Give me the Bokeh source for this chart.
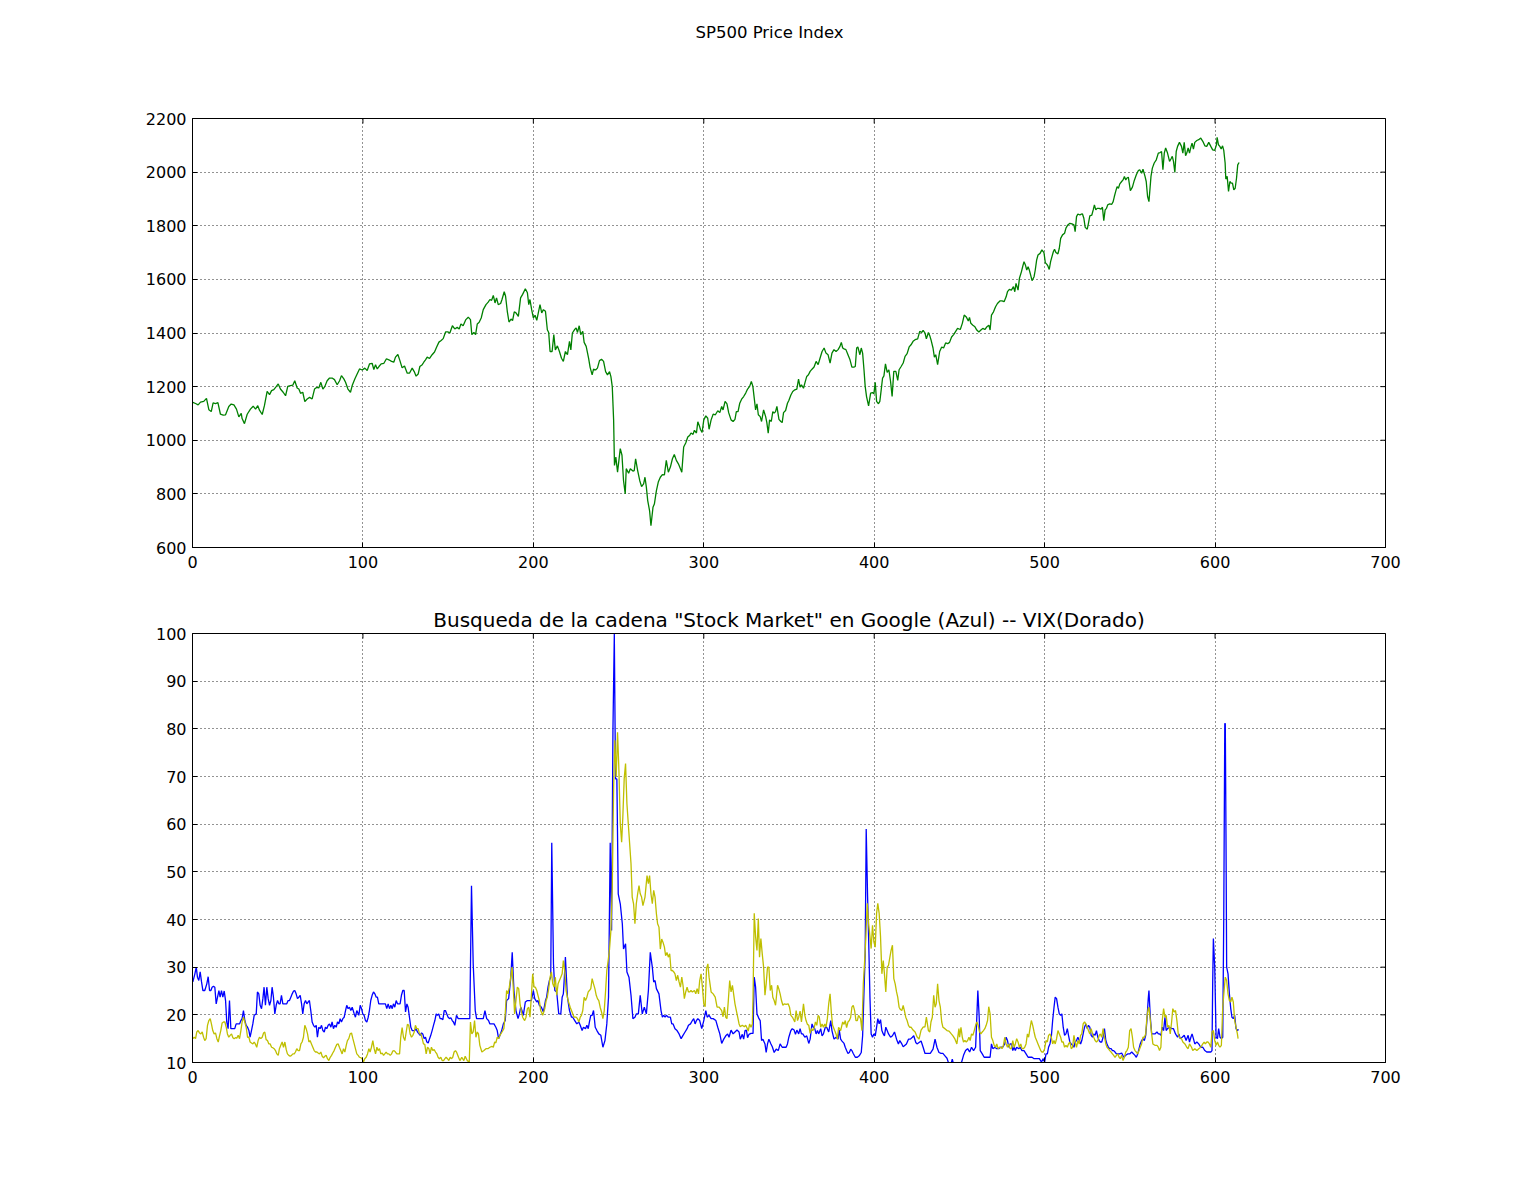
import math
from bokeh.plotting import figure
from bokeh.models import FixedTicker, Range1d, Title
from bokeh.layouts import column
from bokeh.embed import file_html
from bokeh.resources import INLINE

# ---------------- data (week index, value) ----------------
sp500_points = [
(0.2,1141),(1.8,1137),(3.3,1132),(4.7,1142),(6.6,1145),(8.2,1156),(9.6,1114),(11.0,1107),(12.1,1139),(13.5,1137),
(14.9,1140),(16.4,1097),(18.0,1094),(19.4,1095),(21.3,1126),(22.7,1135),(24.3,1132),(25.8,1116),(27.2,1087),(28.6,1100),
(29.1,1081),(30.5,1062),(32.1,1097),(34.0,1116),(35.6,1127),(37.0,1116),(38.3,1129),(39.3,1112),(40.9,1096),(42.2,1129),
(43.8,1182),(45.2,1170),(46.4,1185),(47.7,1189),(49.1,1200),(50.3,1210),(51.6,1191),(53.2,1179),(54.6,1166),(55.9,1201),
(57.5,1204),(58.9,1206),(60.0,1222),(61.4,1195),(62.4,1191),(63.4,1175),(64.7,1179),(65.9,1144),(67.3,1154),(68.7,1160),
(70.2,1154),(71.6,1191),(72.8,1197),(74.1,1195),(75.3,1216),(76.5,1191),(77.6,1200),(79.0,1222),(80.4,1232),(81.9,1232),
(83.3,1226),(84.9,1207),(86.3,1222),(87.4,1241),(88.8,1229),(89.8,1216),(91.2,1191),(92.7,1179),(93.7,1204),(95.3,1229),
(96.6,1247),(98.0,1266),(99.6,1262),(101.1,1269),(102.5,1260),(103.9,1285),(105.4,1287),(106.4,1264),(107.4,1282),(108.4,1266),
(109.4,1275),(110.7,1285),(112.3,1287),(113.8,1304),(115.2,1300),(116.8,1294),(118.1,1291),(119.1,1310),(120.5,1320),(121.7,1297),
(123.0,1270),(124.4,1277),(126.0,1250),(127.3,1250),(128.9,1269),(130.1,1256),(131.2,1239),(132.4,1247),(133.4,1275),(134.8,1282),
(135.7,1291),(136.7,1300),(137.7,1310),(139.1,1305),(140.6,1319),(142.0,1329),(143.2,1347),(144.6,1366),(145.9,1372),(147.1,1379),
(148.5,1404),(149.8,1404),(151.0,1400),(152.5,1427),(153.9,1415),(155.3,1421),(156.5,1415),(157.5,1434),(158.8,1427),(160.4,1450),
(161.8,1459),(163.1,1450),(163.9,1394),(165.1,1402),(166.1,1394),(167.1,1434),(168.2,1440),(169.4,1456),(170.6,1487),(172.2,1506),
(173.5,1515),(174.5,1525),(175.5,1522),(176.5,1540),(177.5,1512),(178.4,1531),(179.4,1506),(180.8,1510),(181.6,1525),(182.9,1554),
(183.7,1537),(184.7,1481),(185.7,1441),(186.9,1452),(187.8,1446),(188.8,1479),(189.8,1475),(191.2,1462),(192.5,1531),(193.7,1544),
(195.3,1565),(196.5,1550),(197.3,1506),(198.0,1525),(199.0,1487),(200.0,1456),(201.0,1466),(202.0,1447),(202.9,1475),(203.9,1506),
(204.9,1475),(205.9,1487),(207.1,1481),(208.2,1412),(209.0,1402),(209.8,1331),(211.0,1331),(212.0,1394),(212.9,1337),(214.1,1352),
(215.3,1331),(216.5,1306),(217.6,1294),(218.8,1331),(220.0,1319),(221.2,1369),(222.0,1337),(222.9,1400),(224.1,1412),(225.1,1419),
(225.9,1402),(226.9,1427),(227.8,1394),(229.0,1406),(229.8,1365),(231.0,1350),(232.4,1306),(233.3,1272),(234.5,1244),(235.3,1265),
(236.5,1262),(237.6,1269),(238.8,1297),(240.0,1302),(241.2,1294),(242.4,1256),(243.5,1244),(244.7,1256),(245.5,1237),(246.3,1200),
(247.1,1075),(247.6,906),(248.4,937),(249.4,881),(250.2,925),(251.0,969),(252.0,944),(252.9,850),(253.9,800),(254.5,894),
(255.9,877),(256.9,894),(258.4,885),(259.2,887),(260.0,931),(261.2,887),(262.4,850),(263.5,827),(264.7,837),(265.5,862),
(266.3,825),(267.1,775),(268.2,737),(269.0,681),(270.2,750),(271.0,762),(272.2,812),(273.3,844),(274.5,862),(275.7,872),
(276.9,871),(278.0,925),(279.2,881),(280.4,900),(281.6,931),(282.7,947),(283.9,925),(285.1,912),(286.3,894),(287.1,881),
(288.2,975),(289.4,990),(290.6,1012),(291.8,1019),(292.5,1027),(293.7,1022),(294.5,1037),(295.7,1027),(296.5,1069),(297.6,1050),
(298.1,1039),(299.0,1029),(300.0,1076),(301.2,1091),(302.3,1082),(303.1,1041),(304.3,1076),(305.5,1097),(306.8,1095),(308.2,1110),
(309.4,1103),(310.5,1126),(311.3,1113),(312.5,1145),(313.6,1136),(314.6,1103),(316.0,1076),(317.2,1070),(318.3,1078),(319.1,1107),
(320.1,1107),(321.1,1138),(322.2,1153),(323.4,1163),(324.6,1176),(325.7,1191),(326.9,1201),(327.9,1219),(328.8,1201),(329.6,1157),
(330.4,1113),(331.2,1136),(332.0,1095),(333.1,1088),(333.9,1070),(335.1,1113),(336.3,1088),(337.0,1066),(337.8,1026),(338.6,1076),
(339.6,1070),(340.5,1107),(341.3,1101),(342.1,1107),(342.9,1126),(344.1,1078),(345.2,1070),(346.0,1066),(346.8,1103),(348.0,1111),
(349.1,1138),(349.9,1148),(351.1,1169),(352.2,1182),(353.4,1188),(354.6,1191),(355.6,1228),(356.5,1198),(357.3,1207),(358.5,1194),
(359.3,1213),(360.4,1238),(361.4,1244),(362.4,1257),(363.5,1265),(364.7,1273),(365.9,1294),(367.1,1282),(368.2,1306),(369.4,1331),
(370.6,1344),(371.7,1325),(372.9,1319),(374.1,1288),(375.2,1325),(376.4,1338),(377.6,1331),(378.8,1338),(379.9,1350),(380.7,1365),
(381.5,1344),(382.3,1341),(383.4,1338),(384.6,1319),(385.8,1300),(386.9,1273),(388.1,1273),(388.9,1275),(389.7,1344),(390.4,1348),
(391.6,1319),(392.4,1344),(393.2,1325),(394.0,1263),(394.7,1201),(395.5,1163),(396.7,1128),(397.9,1176),(399.0,1178),(399.8,1173),
(400.6,1216),(401.4,1145),(402.5,1136),(403.3,1145),(404.1,1188),(404.9,1232),(405.7,1240),(406.6,1285),(407.6,1253),(408.6,1263),
(409.6,1219),(410.5,1163),(411.5,1257),(412.7,1257),(413.8,1223),(414.6,1263),(415.8,1275),(417.0,1288),(418.1,1313),(419.3,1323),
(420.5,1348),(421.6,1356),(422.8,1369),(424.0,1375),(425.5,1378),(426.7,1406),(427.9,1402),(428.7,1410),(429.8,1400),(430.6,1378),
(431.8,1402),(432.6,1390),(433.3,1375),(434.5,1344),(435.3,1310),(436.1,1319),(437.2,1282),(438.4,1331),(439.6,1348),(440.7,1344),
(441.9,1363),(443.1,1360),(444.2,1365),(445.4,1385),(446.6,1394),(447.8,1406),(448.9,1417),(450.5,1413),(451.7,1436),(452.8,1467),
(454.0,1460),(455.2,1445),(455.9,1458),(456.7,1436),(457.9,1429),(459.1,1423),(460.2,1411),(461.4,1404),(462.6,1411),(463.7,1417),
(464.9,1413),(466.1,1423),(467.3,1429),(468.0,1411),(468.8,1467),(470.0,1479),(471.2,1498),(472.3,1510),(473.9,1520),(475.0,1520),
(476.2,1517),(477.4,1535),(478.2,1554),(479.3,1563),(480.5,1560),(481.7,1573),(482.5,1554),(483.2,1585),(484.4,1560),(485.2,1604),
(486.4,1629),(487.1,1647),(487.9,1666),(488.7,1654),(489.5,1635),(490.3,1647),(491.0,1635),(491.8,1616),(492.6,1595),(493.8,1610),
(494.5,1635),(495.3,1672),(496.1,1691),(497.3,1697),(498.4,1710),(499.6,1700),(500.4,1662),(501.2,1657),(501.9,1650),(502.7,1637),
(503.5,1666),(504.3,1685),(505.1,1703),(505.8,1712),(506.6,1700),(507.8,1695),(508.6,1716),(509.4,1753),(510.5,1766),(511.7,1772),
(512.5,1791),(513.6,1803),(514.8,1809),(516.0,1807),(517.2,1803),(517.9,1778),(518.7,1834),(519.5,1844),(520.7,1840),(521.4,1843),
(522.2,1844),(523.0,1828),(523.8,1794),(525.0,1787),(525.7,1809),(526.5,1837),(527.7,1840),(528.5,1859),(529.2,1878),(530.0,1859),
(530.8,1865),(532.0,1865),(533.1,1862),(533.9,1869),(534.7,1819),(535.5,1859),(536.3,1865),(537.0,1878),(538.2,1882),(539.4,1880),
(540.2,1890),(540.9,1909),(541.7,1928),(542.5,1946),(543.3,1940),(544.1,1956),(545.2,1965),(546.0,1971),(546.8,1984),(547.6,1971),
(548.3,1978),(549.1,1981),(550.3,1931),(551.5,1944),(552.6,1969),(553.8,1990),(555.0,2006),(555.8,2009),(556.9,1996),(557.7,2011),
(558.9,1984),(559.6,1965),(560.4,1909),(561.2,1890),(562.4,1984),(563.2,2015),(564.3,2034),(565.5,2046),(566.7,2071),(567.8,2073),
(568.6,2077),(569.4,2009),(570.2,2071),(571.0,2090),(572.1,2071),(573.3,2040),(574.1,2049),(574.9,2059),(575.6,2040),(576.4,1999),
(577.2,2077),(578.0,2096),(579.1,2111),(580.3,2096),(581.1,2071),(581.9,2111),(582.7,2061),(583.4,2071),(584.2,2090),(585.0,2071),
(585.8,2093),(586.5,2108),(587.3,2086),(588.1,2111),(589.3,2118),(590.4,2121),(591.6,2127),(592.8,2115),(594.0,2098),(595.1,2096),
(596.3,2111),(597.5,2096),(598.6,2083),(599.8,2081),(600.8,2102),(601.2,2130),(602.0,2102),(602.8,2096),(603.6,2086),(604.4,2098),
(605.1,2081),(605.9,2034),(606.3,1974),(607.1,1984),(607.9,1928),(608.7,1965),(609.4,1959),(610.2,1959),(611.0,1934),(611.8,1940),
(612.6,1978),(613.3,2027),(614.1,2036),
]

google_points = [
(0.2,26.9),(1.4,28.6),(2.2,30.0),(2.9,27.9),(3.7,27.2),(4.5,29.0),(5.3,26.9),(6.1,25.1),(7.2,25.1),(8.4,26.5),
(9.2,28.0),(10.0,25.1),(10.8,25.1),(11.5,25.8),(12.3,26.0),(13.1,25.8),(13.9,22.3),(14.7,23.7),(15.5,25.1),(16.2,23.7),
(17.0,25.1),(17.8,23.7),(18.6,25.0),(19.4,23.0),(20.1,18.5),(20.9,17.1),(21.7,23.0),(22.5,17.1),(23.7,17.1),(24.8,17.1),
(25.6,18.1),(26.4,18.1),(27.6,18.1),(28.4,18.8),(29.1,19.2),(29.9,20.9),(30.7,18.8),(31.5,17.8),(32.3,17.4),(33.1,16.7),
(33.8,15.3),(34.6,16.7),(35.4,18.1),(36.2,19.9),(37.4,20.2),(38.1,24.8),(38.9,24.4),(39.7,22.0),(40.5,21.3),(41.3,23.4),
(42.0,25.8),(42.8,22.0),(43.6,25.8),(44.4,23.4),(45.2,22.0),(46.0,23.0),(46.7,25.8),(47.5,23.7),(48.3,20.2),(49.1,22.0),
(49.9,23.0),(50.7,22.3),(51.4,22.3),(52.2,24.1),(53.0,22.3),(53.8,22.3),(55.3,22.3),(56.1,23.0),(56.9,23.0),(57.7,23.7),
(58.5,24.4),(59.3,25.0),(60.0,25.1),(60.8,24.4),(61.6,23.4),(62.4,23.7),(63.2,24.1),(64.0,22.3),(64.7,20.2),(65.5,22.3),
(66.3,23.0),(67.1,22.3),(67.9,22.7),(68.6,23.0),(69.4,20.9),(70.2,18.5),(71.0,17.8),(71.8,17.4),(72.6,17.8),(73.3,15.3),
(74.1,17.4),(74.9,17.1),(75.7,17.8),(76.5,16.7),(77.3,16.4),(78.0,17.4),(78.8,17.1),(79.6,17.8),(80.4,18.1),(81.2,17.4),
(81.9,18.5),(82.7,17.1),(83.5,17.8),(84.3,17.4),(85.1,18.5),(85.9,18.1),(86.6,19.2),(87.4,18.5),(88.2,19.2),(89.0,19.5),
(89.8,20.9),(90.5,22.0),(91.3,21.3),(92.1,21.6),(92.9,20.9),(93.7,21.6),(94.9,20.2),(95.6,19.5),(96.4,20.9),(97.6,19.9),
(98.4,22.0),(99.2,21.3),(99.9,20.2),(100.7,19.9),(101.5,18.8),(102.3,18.5),(103.1,19.5),(103.8,20.9),(104.6,23.0),(105.4,24.1),
(106.2,24.8),(107.0,24.4),(107.8,23.7),(108.5,23.7),(109.3,22.3),(110.1,22.3),(110.9,22.3),(111.7,22.3),(112.5,22.3),(113.2,22.3),
(114.0,21.3),(114.8,22.3),(115.6,21.3),(116.4,22.0),(117.2,21.3),(117.9,22.3),(118.7,21.6),(119.5,23.0),(120.3,22.3),(121.1,22.3),
(121.8,22.3),(122.6,24.1),(123.4,25.1),(124.2,25.1),(125.0,20.6),(125.8,22.3),(126.5,21.6),(127.3,19.5),(128.1,17.4),(128.9,16.7),
(129.7,16.7),(130.4,16.7),(131.2,17.1),(132.0,16.4),(132.4,16.2),(133.6,15.7),(134.4,16.2),(135.1,16.0),(135.9,15.0),(136.7,15.3),
(137.5,14.3),(138.3,14.1),(139.1,15.0),(139.8,15.7),(140.6,16.7),(141.4,17.8),(142.2,18.8),(143.0,20.2),(143.7,19.9),(144.5,20.2),
(145.3,19.2),(146.1,19.2),(146.9,19.0),(147.7,20.9),(148.4,20.9),(149.2,20.2),(150.0,19.5),(150.8,19.2),(151.6,19.4),(152.4,18.8),
(153.1,18.5),(153.9,17.8),(154.9,19.9),(155.9,19.2),(156.9,19.2),(158.8,19.2),(160.8,19.2),(162.7,19.2),(163.7,47.1),(164.7,30.7),
(165.9,20.9),(166.7,19.2),(168.2,19.2),(169.6,19.2),(170.6,19.2),(171.6,20.9),(172.6,19.2),(173.7,18.8),(174.5,18.1),(175.7,18.1),
(176.9,18.1),(178.0,17.4),(178.8,16.7),(179.6,15.0),(180.4,15.7),(181.4,16.7),(182.4,18.1),(183.5,18.8),(184.3,23.0),(185.5,23.4),
(186.7,27.6),(187.6,33.1),(188.6,25.1),(189.8,20.9),(191.0,19.2),(191.8,20.2),(192.6,21.6),(193.3,20.9),(194.1,19.9),(195.3,22.7),
(196.5,23.0),(197.3,23.0),(198.0,23.0),(198.8,23.0),(200.0,25.1),(200.8,23.4),(202.0,22.7),(202.7,23.0),(203.5,22.0),(204.7,21.6),
(205.9,20.6),(207.1,23.0),(207.8,23.7),(208.6,25.8),(209.4,27.2),(210.2,27.9),(210.8,56.1),(211.8,30.7),(212.6,25.1),(213.7,24.8),
(214.9,20.2),(216.1,20.2),(216.9,23.7),(217.6,24.4),(218.2,27.9),(218.8,32.1),(220.0,23.7),(221.2,20.9),(222.4,19.5),(223.1,19.5),
(224.3,18.8),(225.5,18.1),(226.7,18.5),(227.5,17.8),(228.6,16.7),(229.4,17.4),(230.6,17.1),(231.4,17.8),(232.2,17.1),(232.9,18.5),
(233.7,19.9),(234.5,19.9),(235.3,20.9),(236.3,17.4),(237.3,16.7),(238.4,16.0),(239.6,15.7),(240.8,13.2),(242.0,14.6),(243.1,18.1),
(244.1,23.7),(245.1,56.1),(245.9,37.7),(246.7,79.7),(247.5,99.9),(248.2,69.5),(249.0,69.5),(249.8,45.4),(251.0,43.3),(252.2,39.1),
(252.9,33.8),(254.1,34.9),(254.9,29.0),(256.1,27.9),(257.3,24.1),(258.4,19.2),(259.6,19.5),(260.4,20.2),(261.6,20.2),(262.7,24.1),
(263.9,20.2),(265.1,21.6),(266.3,20.2),(267.5,25.1),(268.6,33.1),(269.8,30.0),(270.6,26.9),(271.4,27.2),(272.2,25.5),(273.7,24.4),
(274.9,20.9),(275.7,19.5),(276.5,19.9),(277.3,19.5),(278.0,19.9),(279.2,19.5),(280.4,19.5),(281.2,18.1),(282.0,18.1),(283.1,17.1),
(284.3,16.7),(285.5,16.0),(286.7,15.0),(287.8,15.7),(289.0,16.4),(290.2,17.1),(291.0,17.8),(292.2,18.1),(293.3,18.8),(294.1,19.2),
(294.9,18.1),(295.7,18.8),(296.5,19.2),(297.6,18.8),(298.8,17.1),(300.0,18.8),(301.2,20.9),(302.0,19.5),(303.1,19.9),(304.3,19.2),
(305.5,19.2),(307.1,18.8),(308.2,17.4),(309.4,16.0),(310.5,14.0),(311.7,14.9),(312.9,15.6),(314.0,16.0),(314.8,15.3),(316.0,16.8),
(317.2,16.0),(318.3,16.4),(319.5,16.8),(320.7,16.4),(321.4,14.9),(322.6,15.9),(323.4,14.9),(324.2,16.7),(325.0,16.8),(325.7,15.2),
(326.5,15.9),(327.7,16.1),(328.9,16.1),(329.6,27.9),(330.4,25.8),(331.2,20.2),(332.4,19.2),(333.1,18.8),(333.9,14.6),(334.7,14.9),
(335.9,13.9),(336.6,12.1),(337.4,13.9),(338.2,14.9),(339.4,13.9),(340.2,13.3),(341.3,12.1),(342.5,12.8),(343.7,12.5),(344.8,13.9),
(346.0,13.2),(347.2,13.2),(348.3,13.2),(349.1,13.9),(349.9,15.3),(351.1,16.7),(351.9,17.1),(353.0,16.8),(353.8,15.9),(354.6,16.8),
(355.7,16.0),(356.5,17.1),(357.3,16.0),(358.1,16.0),(359.3,15.3),(360.4,15.6),(361.6,14.0),(362.4,14.9),(363.5,18.1),(364.3,17.4),
(365.1,17.1),(365.9,16.0),(366.7,16.7),(367.4,16.0),(368.6,17.1),(369.4,15.6),(370.2,16.0),(371.3,17.4),(372.1,17.4),(373.3,16.4),
(374.5,18.8),(375.2,16.7),(376.4,14.9),(377.6,15.3),(378.8,14.9),(379.5,16.8),(380.3,14.9),(381.1,14.5),(382.3,14.0),(383.0,13.2),
(383.8,12.5),(384.6,11.9),(385.4,12.1),(386.2,12.8),(386.9,12.5),(387.7,11.9),(388.9,11.1),(390.1,11.1),(391.2,11.4),(392.4,12.1),
(393.2,15.6),(393.9,23.7),(394.7,32.8),(395.3,59.0),(396.1,45.0),(396.7,36.4),(397.5,23.7),(398.2,16.0),(399.0,15.3),(399.8,16.0),
(400.6,15.6),(401.4,17.4),(402.1,19.2),(402.9,18.1),(403.7,19.0),(404.5,16.7),(405.3,16.0),(406.0,15.6),(406.8,17.4),(407.6,16.7),
(408.4,16.0),(409.6,15.3),(410.7,15.6),(411.9,16.4),(413.1,14.9),(414.2,13.9),(415.0,14.6),(416.2,13.9),(417.0,13.3),(417.7,13.5),
(418.9,13.9),(420.1,14.9),(421.2,14.9),(422.4,15.3),(423.2,15.6),(424.4,14.2),(425.1,13.9),(426.3,14.2),(427.5,14.5),(428.7,13.2),
(429.8,11.9),(430.6,11.9),(431.8,11.9),(432.9,11.9),(434.5,12.8),(435.7,14.9),(436.8,13.2),(438.0,12.1),(439.2,11.9),(440.3,11.9),
(441.5,11.4),(442.7,10.9),(443.9,9.6),(445.0,9.6),(445.8,10.7),(446.6,9.6),(448.1,9.6),(449.7,9.6),(451.3,10.1),(452.4,11.5),
(453.6,12.5),(454.8,12.9),(456.0,12.2),(457.1,13.2),(458.3,12.5),(459.5,13.2),(460.2,19.5),(460.8,25.1),(461.6,19.5),(462.2,12.5),
(463.4,11.8),(464.5,11.1),(465.7,11.1),(466.9,11.1),(468.0,11.1),(468.8,13.9),(469.6,12.9),(470.8,13.2),(471.9,12.9),(473.1,12.9),
(474.3,13.2),(475.4,13.2),(476.6,13.9),(477.4,15.3),(478.2,14.6),(479.0,13.2),(479.7,13.9),(480.5,13.9),(481.3,12.5),(482.1,13.2),
(482.8,12.5),(483.6,13.2),(484.8,12.9),(485.6,13.2),(486.7,12.5),(487.9,12.5),(489.1,11.8),(490.3,11.1),(491.4,11.1),(492.6,11.1),
(493.8,10.8),(495.3,10.8),(496.9,10.8),(498.1,10.1),(499.2,10.8),(500.0,10.1),(500.8,11.8),(501.6,11.8),(502.3,13.2),(503.1,13.9),
(503.9,15.3),(504.7,18.8),(505.5,21.6),(506.2,23.7),(507.0,23.4),(507.8,21.6),(508.6,20.2),(509.4,19.9),(510.1,20.2),(510.9,17.4),
(511.7,15.7),(512.5,16.0),(513.3,17.1),(514.0,15.7),(514.8,14.3),(515.6,13.9),(516.4,13.6),(517.2,13.2),(517.9,14.3),(518.7,14.6),
(519.5,15.3),(520.3,14.6),(521.1,13.9),(521.8,14.6),(522.6,16.0),(523.4,17.4),(524.2,18.1),(525.0,17.1),(525.7,17.8),(526.5,17.4),
(527.3,15.7),(528.1,15.3),(528.8,16.0),(529.6,15.7),(530.4,16.7),(531.2,15.3),(532.0,14.6),(532.7,14.3),(533.5,14.3),(534.3,15.3),
(535.1,17.1),(535.9,14.6),(536.6,13.9),(537.4,13.2),(538.2,12.9),(539.0,12.9),(539.8,12.5),(540.5,12.5),(541.3,12.2),(542.1,11.8),
(542.9,11.8),(544.0,11.8),(545.2,12.0),(546.4,11.1),(547.6,11.5),(548.7,11.8),(549.9,11.8),(551.1,12.2),(552.2,11.8),(553.0,11.5),
(553.8,11.1),(554.6,11.8),(555.4,12.9),(556.1,13.9),(556.9,14.6),(557.7,15.0),(558.5,14.6),(559.3,15.7),(560.0,18.8),(560.8,23.4),
(561.2,25.1),(562.0,19.5),(562.8,16.0),(563.5,16.0),(564.7,16.0),(565.9,16.4),(566.7,16.0),(567.4,16.0),(568.2,15.7),(569.0,17.4),
(569.8,16.7),(570.6,19.5),(571.3,16.7),(572.1,17.1),(573.3,17.4),(574.5,17.1),(575.6,17.1),(576.8,16.0),(578.0,15.3),(578.8,16.0),
(579.5,15.0),(580.7,15.3),(581.9,15.7),(583.0,14.6),(584.2,15.7),(585.0,14.3),(585.8,15.3),(586.5,16.0),(587.3,15.0),(588.1,13.9),
(589.3,14.3),(590.4,13.9),(591.6,13.2),(592.8,13.2),(594.0,12.5),(595.1,12.2),(596.3,12.2),(597.5,12.2),(598.2,12.5),(598.6,26.5),
(599.0,36.0),(599.8,30.0),(600.6,15.3),(601.4,15.0),(602.1,17.1),(602.9,15.3),(603.7,15.0),(604.5,15.3),(605.1,40.5),(605.7,81.1),
(606.0,81.1),(606.4,58.0),(606.8,30.0),(607.6,28.6),(608.4,24.4),(609.2,21.3),(609.9,19.5),(610.7,19.2),(611.5,19.9),(612.3,17.1),
(613.1,16.7),(613.8,16.9),
]

vix_points = [
(0.2,15.0),(1.0,15.3),(1.8,15.0),(2.5,16.4),(3.3,16.7),(4.1,16.2),(4.9,16.0),(5.7,16.4),(6.5,15.3),(7.2,14.6),
(8.0,15.0),(8.8,17.8),(9.6,18.8),(10.4,19.2),(11.1,18.1),(11.9,16.7),(12.7,16.0),(13.5,16.2),(14.3,15.0),(15.1,14.3),
(15.8,15.5),(16.6,16.7),(17.4,18.3),(18.2,18.5),(19.0,18.5),(19.8,17.4),(20.5,16.0),(21.3,15.3),(22.1,15.7),(22.9,16.0),
(23.7,15.2),(24.4,15.0),(25.2,15.2),(26.0,15.1),(26.8,15.7),(27.6,15.0),(28.4,16.7),(29.1,18.5),(29.9,19.5),(30.7,18.5),
(31.5,17.4),(32.3,15.3),(33.1,15.3),(33.8,14.3),(34.6,14.1),(35.4,13.9),(36.2,14.3),(37.0,13.8),(37.7,13.2),(38.5,14.6),
(39.3,15.3),(40.1,15.0),(40.9,15.3),(41.7,16.2),(42.4,16.4),(43.2,14.8),(44.0,14.6),(44.8,13.9),(45.6,13.9),(46.4,13.2),
(47.1,13.1),(47.9,12.9),(48.7,12.5),(49.5,11.8),(50.3,11.5),(51.0,12.9),(51.8,13.6),(52.6,14.3),(53.4,13.2),(54.2,14.3),
(55.0,12.7),(55.7,11.8),(56.5,11.5),(57.3,11.3),(58.1,11.5),(58.9,11.8),(59.7,11.8),(60.4,12.2),(61.2,12.9),(62.0,12.5),
(62.8,12.5),(63.6,13.9),(64.3,14.3),(65.1,15.3),(65.9,17.8),(66.7,17.1),(67.5,16.0),(68.3,14.3),(69.0,14.6),(69.8,13.9),
(70.6,13.2),(71.4,12.5),(72.2,12.2),(73.0,12.2),(73.7,12.0),(74.5,11.8),(75.3,12.2),(76.1,11.3),(76.9,11.0),(77.6,11.3),
(78.4,11.5),(79.2,10.8),(80.0,10.4),(80.8,11.1),(81.6,11.5),(82.3,12.0),(83.1,12.5),(83.9,13.2),(84.7,13.8),(85.5,13.9),
(86.2,13.2),(87.0,12.5),(87.8,11.8),(88.6,12.9),(89.4,12.2),(90.2,13.6),(90.9,14.6),(91.7,15.0),(92.5,16.0),(93.3,16.2),
(94.1,15.0),(94.9,13.9),(95.6,12.9),(96.4,11.8),(97.2,11.5),(98.0,11.1),(98.8,11.0),(99.5,10.8),(100.3,10.1),(101.1,10.8),
(101.9,11.1),(102.7,11.8),(103.5,12.9),(104.2,12.2),(105.0,13.2),(105.8,14.6),(106.6,12.9),(107.4,11.8),(108.2,13.2),(108.9,12.5),
(109.7,12.9),(110.5,11.8),(111.3,12.0),(112.1,11.5),(112.8,11.8),(113.6,12.2),(114.4,11.8),(115.2,11.8),(116.0,11.5),(116.8,11.8),
(117.5,12.4),(118.3,12.5),(119.1,12.2),(119.9,11.8),(120.7,11.8),(121.5,11.8),(122.2,15.3),(123.0,17.3),(123.8,15.3),(124.6,14.6),
(125.4,16.4),(126.1,18.0),(126.9,17.8),(127.7,16.0),(128.5,15.3),(129.3,15.7),(130.1,16.4),(130.8,17.8),(131.6,17.1),(132.4,17.1),
(133.2,16.0),(134.0,16.0),(134.8,15.0),(135.5,13.9),(136.3,13.8),(137.1,11.8),(137.9,13.2),(138.7,12.9),(139.4,11.8),(140.2,13.2),
(141.0,12.5),(141.8,12.7),(142.6,12.2),(143.4,11.8),(144.1,11.1),(144.9,10.8),(145.7,11.1),(146.5,10.4),(147.3,10.4),(148.1,10.8),
(148.8,11.1),(149.6,10.8),(150.4,10.4),(151.2,11.1),(152.0,10.8),(152.7,11.1),(153.5,12.2),(154.3,12.5),(154.9,12.2),(156.1,11.1),
(156.9,10.4),(158.0,11.1),(159.2,10.4),(160.0,11.3),(161.2,10.4),(162.4,10.1),(163.1,18.5),(163.9,16.0),(164.7,16.4),(165.5,18.8),
(166.3,15.3),(167.1,16.4),(167.8,16.0),(168.6,13.6),(169.8,12.2),(171.0,12.5),(172.2,12.9),(173.3,12.9),(174.5,13.2),(175.7,13.4),
(176.5,13.2),(177.3,14.3),(178.0,14.1),(178.8,15.3),(179.6,15.0),(180.4,15.7),(181.6,16.4),(182.7,17.1),(183.5,20.2),(184.3,25.1),
(185.1,24.4),(185.9,25.8),(186.7,27.9),(187.5,30.0),(188.2,25.8),(189.0,20.2),(189.8,23.0),(190.6,25.8),(191.4,25.5),(192.2,22.3),
(192.9,20.9),(193.7,19.5),(194.9,18.8),(195.7,19.5),(196.5,21.3),(197.3,21.6),(198.0,19.5),(198.8,23.7),(199.6,28.6),(200.4,25.8),
(201.2,25.8),(202.0,25.1),(202.7,24.1),(203.5,23.0),(204.3,20.9),(205.5,19.9),(206.7,21.3),(207.5,23.0),(208.2,23.7),(209.0,25.5),
(209.8,27.9),(210.6,29.0),(211.4,26.5),(212.2,25.8),(212.9,27.9),(213.7,24.1),(214.5,26.5),(215.3,27.2),(216.1,27.9),(216.9,28.6),
(217.6,31.4),(218.4,29.3),(219.2,25.1),(220.4,23.0),(221.6,21.6),(222.7,20.6),(223.9,19.5),(225.1,19.5),(225.9,19.2),(226.7,18.5),
(227.5,19.5),(228.2,19.9),(229.0,20.9),(229.8,23.7),(230.6,23.0),(231.4,23.7),(232.2,24.8),(232.9,25.1),(233.7,25.5),(234.5,27.6),
(235.3,26.5),(236.1,25.5),(236.9,24.1),(237.6,23.4),(238.4,23.0),(239.2,21.6),(240.0,20.6),(240.8,19.2),(241.6,20.9),(242.4,25.1),
(243.1,29.3),(243.9,31.4),(244.7,33.8),(245.5,37.7),(246.3,46.8),(247.1,67.8),(247.8,77.6),(248.6,69.9),(249.4,79.3),(250.2,71.3),
(251.0,60.1),(251.8,56.2),(252.5,61.5),(253.3,69.5),(254.1,72.7),(254.9,64.3),(255.7,60.1),(256.5,55.9),(257.3,51.7),(258.0,44.7),
(258.8,43.3),(259.6,39.1),(260.4,43.3),(261.2,45.4),(262.0,47.1),(262.7,45.4),(263.5,44.7),(264.3,42.9),(265.5,44.7),(266.7,49.2),
(267.5,47.5),(268.2,49.2),(269.0,45.4),(269.8,43.3),(270.6,46.1),(271.4,44.7),(272.2,41.2),(272.9,39.1),(273.7,38.4),(274.5,33.8),
(275.3,35.9),(276.1,35.2),(276.9,34.2),(277.6,32.4),(278.4,33.1),(279.2,32.1),(280.0,32.8),(280.8,29.3),(281.6,29.3),(282.4,29.0),
(283.1,28.6),(283.9,27.2),(284.7,28.3),(285.5,26.9),(286.3,25.8),(287.1,27.9),(287.8,26.2),(288.6,23.4),(289.4,24.8),(290.2,25.8),
(291.0,24.8),(291.8,24.8),(292.5,25.1),(293.3,24.8),(294.5,25.1),(295.3,24.4),(296.1,25.5),(296.9,24.4),(297.6,27.2),(298.4,28.6),
(299.2,25.8),(300.0,22.3),(300.8,21.7),(301.6,29.7),(302.4,30.7),(303.1,27.9),(304.3,24.8),(305.5,24.4),(306.7,23.7),(307.8,21.6),
(309.0,21.6),(310.5,20.9),(311.3,19.6),(312.1,21.6),(312.9,19.5),(313.6,19.2),(314.4,23.0),(315.2,27.2),(316.0,24.8),(316.8,26.2),
(317.5,24.4),(318.3,22.3),(319.1,20.9),(319.9,19.5),(320.7,18.1),(321.4,17.5),(322.6,17.8),(323.8,17.5),(324.6,17.8),(325.3,17.3),
(326.1,16.6),(326.9,18.1),(327.7,17.4),(328.5,18.1),(328.9,23.7),(329.6,41.3),(330.4,36.4),(331.2,33.5),(332.0,40.2),(332.7,32.1),
(333.5,36.0),(334.3,32.8),(335.1,30.0),(335.9,24.1),(336.6,26.5),(337.4,30.0),(338.2,30.0),(339.0,25.1),(339.8,26.2),(340.5,23.7),
(341.3,23.0),(342.1,22.0),(343.3,26.2),(344.0,25.5),(344.8,24.4),(345.6,23.0),(346.4,22.0),(347.2,22.3),(348.3,22.2),(349.5,22.3),
(350.3,21.6),(351.1,19.9),(352.2,19.4),(353.4,18.5),(354.2,20.9),(355.0,18.8),(355.7,19.5),(356.5,20.8),(357.3,18.5),(358.5,22.3),
(359.3,19.9),(360.0,18.8),(360.8,18.0),(361.6,17.8),(362.4,16.1),(363.2,17.1),(363.9,16.7),(364.7,17.1),(365.5,18.5),(366.3,17.8),
(367.1,19.9),(367.8,19.5),(368.6,17.4),(369.4,18.1),(370.2,17.4),(371.0,18.1),(371.7,17.4),(372.5,19.2),(373.3,22.3),(374.1,24.4),
(374.9,20.2),(375.6,17.8),(376.8,16.7),(377.6,16.0),(378.4,14.9),(379.1,17.4),(380.3,16.7),(381.5,18.5),(382.3,18.0),(383.0,18.8),
(383.8,17.3),(384.6,18.5),(385.4,18.8),(386.2,19.5),(386.9,21.6),(387.7,22.0),(388.5,20.9),(389.3,18.8),(390.1,18.8),(390.8,19.9),
(392.0,19.2),(392.8,16.7),(393.6,26.5),(394.3,30.7),(395.1,36.4),(395.9,43.4),(396.7,39.2),(397.5,36.4),(398.2,33.9),(399.0,38.8),
(399.8,35.3),(400.6,34.2),(401.4,41.3),(402.1,43.4),(402.9,41.3),(403.7,36.4),(404.5,28.6),(405.3,31.4),(406.0,28.6),(406.8,24.8),
(407.6,30.0),(408.4,30.4),(409.2,32.1),(409.9,33.5),(410.7,34.6),(411.5,27.6),(412.3,26.5),(413.1,24.8),(413.8,23.7),(414.6,21.6),
(415.4,21.1),(416.2,20.9),(417.0,22.0),(417.7,20.9),(418.5,19.5),(419.3,18.8),(420.1,17.8),(420.8,17.4),(421.6,17.4),(422.8,16.8),
(424.0,16.4),(425.1,15.4),(426.3,14.9),(427.5,16.8),(428.7,17.4),(429.8,17.5),(430.6,19.5),(431.8,16.7),(432.6,16.4),(433.3,18.5),
(434.1,19.5),(434.9,24.1),(435.7,21.6),(436.4,22.3),(437.2,26.5),(438.0,23.0),(438.8,21.6),(439.6,18.5),(440.3,17.4),(441.5,17.1),
(442.7,16.7),(443.9,16.6),(445.0,16.1),(446.2,15.6),(447.4,14.9),(448.5,13.9),(449.7,17.1),(450.1,15.3),(450.9,17.4),(451.7,15.3),
(452.4,14.3),(453.2,14.6),(454.0,14.3),(454.8,14.6),(455.6,15.3),(456.3,14.6),(457.1,16.0),(457.9,15.7),(458.7,16.7),(459.5,17.8),
(460.2,18.5),(461.0,17.8),(461.8,16.4),(462.6,16.0),(463.4,16.4),(464.1,16.7),(464.9,17.1),(465.7,17.8),(466.5,18.8),(467.2,21.7),
(468.0,20.2),(468.8,15.3),(469.6,14.6),(470.4,13.6),(471.2,13.2),(471.9,13.9),(472.7,12.9),(473.5,13.2),(474.3,13.2),(475.0,12.9),
(475.8,13.6),(476.6,15.3),(477.4,13.9),(478.2,13.2),(479.0,13.9),(479.7,12.9),(480.5,12.9),(481.3,14.6),(482.1,13.2),(482.8,13.9),
(483.6,15.0),(484.4,14.3),(485.2,13.2),(486.0,13.9),(486.7,12.9),(487.5,12.9),(488.3,13.2),(489.1,13.9),(489.9,16.0),(490.6,15.3),
(491.4,17.1),(492.2,18.8),(493.0,17.8),(493.8,16.4),(494.5,15.3),(495.3,14.6),(496.1,13.9),(496.9,13.2),(497.7,12.5),(498.4,12.2),
(499.2,12.2),(500.0,12.9),(500.8,14.6),(501.6,14.3),(502.3,15.7),(503.1,16.0),(503.9,15.3),(504.7,13.9),(505.5,14.6),(506.2,13.9),
(507.0,15.0),(507.8,16.7),(508.6,16.0),(509.4,15.3),(510.1,14.3),(510.9,14.3),(511.7,13.2),(512.5,13.6),(513.3,13.2),(514.0,13.9),
(514.8,14.3),(515.6,12.9),(516.4,13.2),(517.2,15.7),(517.9,14.3),(518.7,13.2),(519.5,14.6),(520.3,13.9),(521.1,15.7),(521.8,16.0),
(522.6,18.1),(523.4,18.5),(524.2,18.1),(525.0,17.4),(525.7,16.7),(526.5,16.0),(527.3,17.1),(528.1,16.0),(528.8,15.3),(529.6,14.6),
(530.4,14.3),(531.2,14.6),(532.0,15.7),(532.7,16.0),(533.5,15.3),(534.3,17.1),(535.1,15.3),(535.9,13.9),(536.6,13.2),(537.4,12.9),
(538.2,12.5),(539.0,12.2),(539.8,11.8),(540.5,11.5),(541.3,11.1),(542.1,11.5),(542.9,11.8),(543.7,11.1),(544.4,10.8),(545.2,11.5),
(546.0,10.4),(546.8,11.1),(547.6,12.2),(548.3,12.5),(549.1,13.2),(549.9,16.7),(550.7,17.1),(551.5,15.3),(552.2,13.2),(553.0,12.5),
(553.8,12.2),(554.6,11.8),(555.4,12.5),(556.1,13.2),(556.9,13.9),(557.7,15.3),(558.5,15.3),(559.3,16.0),(560.0,19.5),(560.8,21.3),
(561.2,21.6),(562.0,18.8),(562.8,16.0),(563.5,13.9),(564.7,13.6),(565.9,13.6),(566.7,13.2),(567.4,12.5),(568.2,13.2),(569.0,18.8),
(569.8,21.3),(570.6,19.5),(571.3,19.9),(572.1,17.4),(572.9,17.8),(573.7,16.0),(574.5,18.5),(575.2,21.3),(576.0,20.6),(576.8,20.9),
(577.6,18.8),(578.4,16.0),(579.1,15.3),(580.3,15.0),(581.1,14.3),(582.3,13.9),(583.4,13.2),(584.2,12.9),(585.0,13.9),(586.2,13.2),
(586.9,12.5),(588.1,12.9),(589.3,12.5),(590.4,12.9),(591.6,13.2),(592.8,13.9),(593.6,14.3),(594.3,13.9),(595.1,14.3),(595.9,14.3),
(596.7,13.9),(597.5,13.2),(598.2,16.4),(599.0,16.7),(599.8,14.6),(600.6,13.6),(601.4,14.3),(602.1,13.6),(602.9,13.2),(603.7,13.6),
(604.5,21.6),(605.3,25.1),(606.0,27.9),(606.8,27.2),(607.6,24.4),(608.4,23.0),(609.2,22.7),(609.9,23.7),(610.7,22.7),(611.5,18.8),
(612.3,17.4),(613.1,16.0),(613.5,15.0),
]

x_ticks = [0, 100, 200, 300, 400, 500, 600, 700]
price_ticks = [600, 800, 1000, 1200, 1400, 1600, 1800, 2000, 2200]
search_ticks = [10, 20, 30, 40, 50, 60, 70, 80, 90, 100]

suptitle_text = "SP500 Price Index"
lower_title_text = 'Busqueda de la cadena "Stock Market" en Google (Azul) -- VIX(Dorado)'

FONT = "DejaVu Sans"
W = 1538


def style_axes(p, yticks, ymax, xmax):
    p.xaxis.ticker = FixedTicker(ticks=x_ticks)
    p.yaxis.ticker = FixedTicker(ticks=yticks)
    for ax in p.axis:
        ax.major_tick_in = 5
        ax.major_tick_out = 0
        ax.minor_tick_in = 0
        ax.minor_tick_out = 0
        ax.axis_line_color = "black"
        ax.axis_line_width = 1
        ax.major_tick_line_color = "black"
        ax.major_tick_line_width = 1
        ax.major_label_text_font = FONT
        ax.major_label_text_font_size = "16px"
        ax.major_label_text_color = "black"
    p.xaxis.major_label_standoff = 8
    p.yaxis.major_label_standoff = 6
    p.xgrid.ticker = FixedTicker(ticks=x_ticks)
    p.ygrid.ticker = FixedTicker(ticks=yticks)
    p.grid.grid_line_color = "black"
    p.grid.grid_line_dash = "1 3"
    p.grid.grid_line_width = 1
    p.grid.grid_line_alpha = 0.85
    p.outline_line_color = "black"
    p.outline_line_width = 1
    p.outline_line_alpha = 1
    p.background_fill_color = "white"
    p.border_fill_color = "white"
    # inward ticks on the top and right edges (half of each dash is clipped by the frame)
    p.scatter(x_ticks, [ymax] * len(x_ticks), marker="dash", size=10,
              angle=math.pi / 2, line_color="black", line_width=1)
    p.scatter([xmax] * len(yticks), yticks, marker="dash", size=10,
              line_color="black", line_width=1)


# strip that carries the figure-wide title (frame aligned with the plots below)
p0 = figure(width=W, height=60, output_backend="svg", toolbar_location=None,
            x_range=Range1d(0, 1), y_range=Range1d(0, 1),
            x_axis_type=None, y_axis_type=None,
            min_border_left=0, min_border_right=0,
            min_border_top=41, min_border_bottom=0)
p0.outline_line_color = None
p0.background_fill_color = "white"
p0.border_fill_color = "white"
p0.add_layout(Title(text=suptitle_text, align="left", offset=503, text_font=FONT,
                    text_font_size="16.5px", text_font_style="normal",
                    text_color="black", standoff=0), "above")

p1 = figure(width=W, height=530, output_backend="svg", toolbar_location=None,
            x_range=Range1d(0, 700), y_range=Range1d(600, 2200),
            min_border_left=192, min_border_right=153,
            min_border_top=58, min_border_bottom=43)
p1.line([pt[0] for pt in sp500_points], [pt[1] for pt in sp500_points],
        line_color="#008000", line_width=1.3)
style_axes(p1, price_ticks, 2200, 700)

p2 = figure(width=W, height=580, output_backend="svg", toolbar_location=None,
            x_range=Range1d(0, 700), y_range=Range1d(10, 100),
            min_border_left=192, min_border_right=153,
            min_border_top=43, min_border_bottom=108)
p2.line([pt[0] for pt in google_points], [pt[1] for pt in google_points],
        line_color="#0000ff", line_width=1.3)
p2.line([pt[0] for pt in vix_points], [pt[1] for pt in vix_points],
        line_color="#bfbf00", line_width=1.3)
style_axes(p2, search_ticks, 100, 700)
t2 = Title(text=lower_title_text, align="center", text_font=FONT,
           text_font_size="20px", text_font_style="normal",
           text_color="black", standoff=3)
p2.add_layout(t2, "above")

layout = column(p0, p1, p2, spacing=0)
open("out.html", "w").write(file_html(layout, INLINE))
